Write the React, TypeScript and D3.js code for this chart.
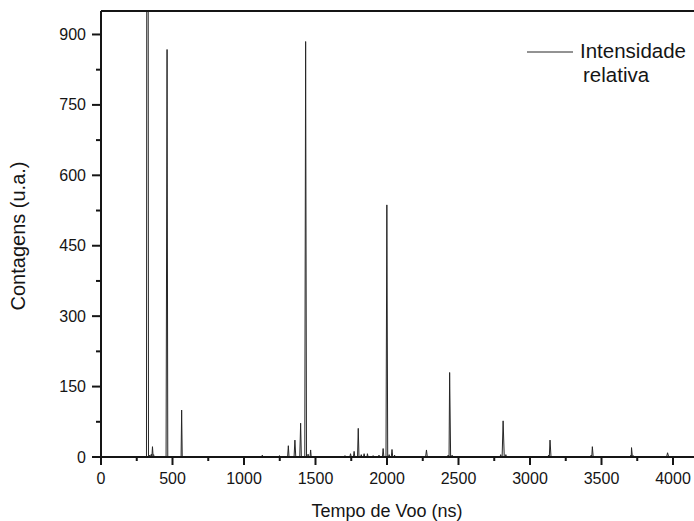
import React from "react";
import * as d3 from "d3";

// Time of flight (ns) and counts (u.a.)
const timeNs: number[] = [
  0, 250, 300,
  318, 321, 329, 332,
  340, 345, 352, 356, 360, 364, 368, 372,
  455, 462, 467,
  560, 564, 568,
  600, 900,
  1125, 1128, 1131, 1180, 1183, 1186, 1245, 1248, 1251, 1270,
  1305, 1310, 1315,
  1350, 1356, 1362,
  1390, 1396, 1401,
  1425, 1431, 1437,
  1445, 1448, 1452,
  1462, 1466, 1470,
  1700, 1706, 1710, 1740, 1745, 1750,
  1765, 1770, 1775,
  1794, 1799, 1804,
  1815, 1820, 1825,
  1835, 1840, 1845,
  1860, 1863, 1868,
  1900, 1903, 1907, 1940, 1944, 1948,
  1968, 1973, 1978,
  1993, 1999, 2005,
  2010, 2015, 2020,
  2030, 2035, 2040,
  2050, 2053, 2057,
  2150, 2155, 2160,
  2270, 2276, 2282,
  2420, 2428, 2432,
  2434, 2438, 2445, 2452, 2455, 2460,
  2650,
  2790, 2795, 2800,
  2805, 2812, 2820, 2828, 2831, 2835,
  3125, 3130, 3133, 3135, 3140, 3147,
  3420, 3428, 3431, 3432, 3436, 3442,
  3700, 3706, 3708, 3710, 3716, 3722, 3726,
  3955, 3962, 3970,
  4200,
];

const counts: number[] = [
  0, 0, 0,
  0, 1500, 1500, 0,
  4, 0, 6, 0, 22, 3, 5, 0,
  0, 868, 0,
  0, 100, 0,
  0, 0,
  0, 4, 0, 0, 2, 0, 0, 3, 0, 0,
  0, 24, 0,
  0, 36, 0,
  0, 72, 0,
  0, 885, 0,
  0, 6, 0,
  0, 15, 0,
  0, 3, 0, 0, 7, 0,
  0, 12, 0,
  0, 61, 0,
  0, 5, 0,
  0, 7, 0,
  0, 7, 0,
  0, 3, 0, 0, 4, 0,
  0, 18, 0,
  0, 537, 0,
  0, 5, 0,
  0, 16, 0,
  0, 4, 0,
  0, 2, 0,
  0, 15, 0,
  0, 4, 0,
  0, 180, 0, 0, 4, 0,
  0,
  0, 5, 0,
  0, 77, 0, 0, 5, 0,
  0, 4, 0, 0, 36, 0,
  0, 4, 0, 0, 22, 0,
  0, 4, 0, 20, 0, 3, 0,
  0, 9, 0,
  0,
];

const xTicks: number[] = [0, 500, 1000, 1500, 2000, 2500, 3000, 3500, 4000];
const xMinorTicks: number[] = [250, 750, 1250, 1750, 2250, 2750, 3250, 3750];
const yTicks: number[] = [0, 150, 300, 450, 600, 750, 900];
const yMinorTicks: number[] = [75, 225, 375, 525, 675, 825];

const xTitle = "Tempo de Voo (ns)";
const yTitle = "Contagens (u.a.)";
const legendLines = ["Intensidade", "relativa"];

export default function App() {
  const W = 694;
  const H = 521;
  const left = 101;
  const top = 11;
  const bottom = 457;
  const x = d3.scaleLinear().domain([0, 4200]).range([left, left + (4200 / 500) * 71.5]);
  const y = d3.scaleLinear().domain([0, 950]).range([bottom, top]);

  const pts: [number, number][] = timeNs.map((t, i) => [t, counts[i]]);
  const line = d3
    .line<[number, number]>()
    .x((d) => x(d[0]))
    .y((d) => y(d[1]));

  const font = "Liberation Sans, Arial, Helvetica, sans-serif";
  const ink = "#151515";

  return (
    <svg
      width={W}
      height={H}
      style={{ position: "absolute", left: 0, top: 0, background: "#fff" }}
      fontFamily={font}
    >
      <defs>
        <clipPath id="plotClip">
          <rect x={left} y={top} width={W - left} height={bottom - top} />
        </clipPath>
      </defs>
      <rect x={0} y={0} width={W} height={H} fill="#fff" />

      <path
        d={line(pts) || ""}
        fill="none"
        stroke="#262626"
        strokeWidth={1}
        clipPath="url(#plotClip)"
      />

      {/* frame */}
      <line x1={left} x2={W} y1={top} y2={top} stroke={ink} strokeWidth={2} />
      <line x1={left} x2={left} y1={top} y2={bottom} stroke={ink} strokeWidth={2} />
      <line x1={left} x2={W} y1={bottom} y2={bottom} stroke={ink} strokeWidth={2} />

      {/* x ticks */}
      {xTicks.map((t) => (
        <g key={"xt" + t}>
          <line x1={x(t)} x2={x(t)} y1={bottom} y2={bottom + 8} stroke={ink} strokeWidth={2} />
          <text x={x(t)} y={484} textAnchor="middle" fontSize={16} fill={ink}>
            {t}
          </text>
        </g>
      ))}
      {xMinorTicks.map((t) => (
        <line key={"xm" + t} x1={x(t)} x2={x(t)} y1={bottom} y2={bottom + 4} stroke={ink} strokeWidth={2} />
      ))}

      {/* y ticks */}
      {yTicks.map((t) => (
        <g key={"yt" + t}>
          <line x1={left - 9} x2={left} y1={y(t)} y2={y(t)} stroke={ink} strokeWidth={2} />
          <text x={86} y={y(t) + 5.6} textAnchor="end" fontSize={16} fill={ink}>
            {t}
          </text>
        </g>
      ))}
      {yMinorTicks.map((t) => (
        <line key={"ym" + t} x1={left - 5} x2={left} y1={y(t)} y2={y(t)} stroke={ink} strokeWidth={2} />
      ))}

      {/* axis titles */}
      <text x={387} y={517} textAnchor="middle" fontSize={18} fill={ink}>
        {xTitle}
      </text>
      <text
        transform={`translate(25, 236) rotate(-90)`}
        textAnchor="middle"
        fontSize={20}
        fill={ink}
      >
        {yTitle}
      </text>

      {/* legend */}
      <line x1={527} x2={573} y1={52} y2={52} stroke="#262626" strokeWidth={1} />
      <text x={580} y={57.5} fontSize={20.5} fill={ink}>
        {legendLines[0]}
      </text>
      <text x={583} y={82} fontSize={20.5} fill={ink}>
        {legendLines[1]}
      </text>
    </svg>
  );
}
